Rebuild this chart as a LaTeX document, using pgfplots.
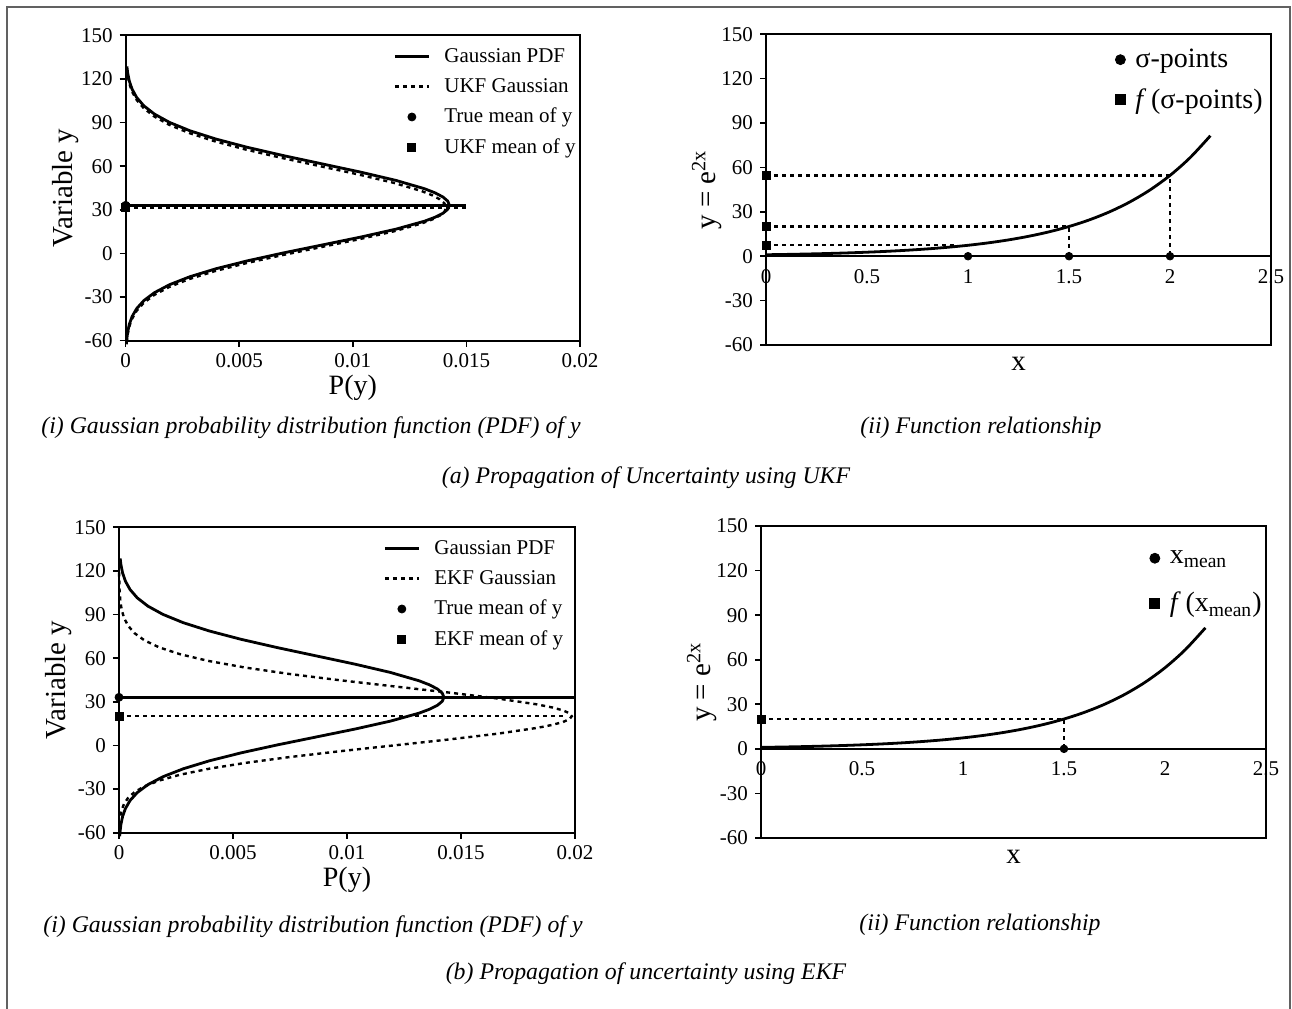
\documentclass[border=0pt]{standalone}
\usepackage{fontspec}
\setmainfont{Liberation Serif}
\usepackage{pgfplots}
\pgfplotsset{compat=1.18}
\pgfplotsset{
  base/.style={scale only axis, axis line style={line width=1pt},
    tick style={black, line width=0.8pt}, major tick length=3pt,
    tick align=outside, tick pos=left, scaled ticks=false,
    tick label style={font=\fontsize{10.5}{12}\selectfont},
    ymin=-60, ymax=150, ytick={-60,-30,0,30,60,90,120,150},
    yticklabels={-60,-30,0,30,60,90,120,150},
    clip=false, legend cell align=left,
    label style={font=\fontsize{14.5}{16}\selectfont}},
  leftp/.style={xmin=0, xmax=0.02, xtick={0,0.005,0.01,0.015,0.02},
    xticklabels={0,0.005,0.01,0.015,0.02}, xlabel={P(y)}, ylabel={Variable y},
    xlabel style={at={(rel axis cs:0.5,0)}, anchor=base, yshift=-27pt,
      font=\fontsize{14}{15}\selectfont},
    ylabel style={at={(rel axis cs:-0.132,0.5)}, anchor=center},
    legend style={draw=none, fill=none, font=\fontsize{10.5}{12}\selectfont,
      anchor=north east, row sep=2.5pt,
      /tikz/every odd column/.append style={column sep=5pt}}},
  rightp/.style={xmin=0, xmax=2.5, xtick={0,0.5,1,1.5,2,2.5},
    xticklabels={0,0.5,1,1.5,2,2.5}, xtick style={draw=none},
    xlabel={x}, ylabel={y = e\textsuperscript{2x}},
    xlabel style={at={(rel axis cs:0.5,0)}, anchor=base, yshift=-12.7pt},
    ylabel style={at={(rel axis cs:-0.117,0.5)}, anchor=center},
    legend style={draw=none, fill=none, font=\fontsize{14}{16}\selectfont,
      anchor=north east, row sep=5pt,
      /tikz/every odd column/.append style={column sep=3pt}},
    legend image post style={mark size=2.5pt}},
  solidc/.style={black, line width=1.4pt, line join=round},
  dotc/.style={black, line width=1.2pt, dash pattern=on 2pt off 2pt},
}
\begin{document}
\begin{tikzpicture}
\useasboundingbox (0,0) rectangle (646pt,504pt);
\fill[white] (0,0) rectangle (646pt,504pt);
\draw[line width=1pt, color=black!62] (3.5pt,-10pt) -- (3.5pt,500.5pt) -- (645pt,500.5pt) -- (645pt,-10pt);

% ---------- (a)(i) ----------
\begin{axis}[base, leftp, at={(62.85pt,333.65pt)}, anchor=south west,
  width=227.15pt, height=152.7pt,
  legend style={at={(rel axis cs:1,0.985)}, xshift=3pt}]
\addplot[solidc] coordinates {(0.0000312,-62.45) (0.000044,-59.72) (0.000085,-54.26) (0.000158,-48.8) (0.000283,-43.34) (0.000485,-37.88) (0.000800,-32.42) (0.001267,-26.96) (0.001929,-21.5) (0.002820,-16.04) (0.003962,-10.58) (0.005348,-5.12) (0.006936,0.34) (0.008643,5.8) (0.010348,11.26) (0.011903,16.72) (0.013155,22.18) (0.013623,24.91) (0.013968,27.64) (0.014179,30.37) (0.01425,33.1) (0.014179,35.95) (0.013968,38.8) (0.013623,41.65) (0.013155,44.5) (0.011903,50.2) (0.010348,55.9) (0.008643,61.6) (0.006936,67.3) (0.005348,73.0) (0.003962,78.7) (0.002820,84.4) (0.001929,90.1) (0.001267,95.8) (0.000800,101.5) (0.000485,107.2) (0.000283,112.9) (0.000158,118.6) (0.000085,124.3) (0.0000521,128.6)};
\addlegendentry{Gaussian PDF}
\addplot[dotc] coordinates {(0.0000436,-61.32) (0.000084,-55.86) (0.000156,-50.4) (0.000280,-44.94) (0.000480,-39.48) (0.000792,-34.02) (0.001254,-28.56) (0.001910,-23.1) (0.002792,-17.64) (0.003922,-12.18) (0.005295,-6.72) (0.006867,-1.26) (0.008557,4.2) (0.010245,9.66) (0.011784,15.12) (0.013023,20.58) (0.013487,23.31) (0.013828,26.04) (0.014037,28.77) (0.014108,31.5) (0.014037,34.35) (0.013828,37.2) (0.013487,40.05) (0.013023,42.9) (0.011784,48.6) (0.010245,54.3) (0.008557,60.0) (0.006867,65.7) (0.005295,71.4) (0.003922,77.1) (0.002792,82.8) (0.001910,88.5) (0.001254,94.2) (0.000792,99.9) (0.000480,105.6) (0.000280,111.3) (0.000156,117.0) (0.000084,122.7) (0.0000516,127.0)};
\addlegendentry{UKF Gaussian}
\addplot[only marks, mark=*, mark size=2pt, black] coordinates {(0,33.1)};
\addlegendentry{True mean of y}
\addplot[only marks, mark=square*, mark size=2pt, black] coordinates {(0,31.5)};
\addlegendentry{UKF mean of y}
\addplot[solidc, forget plot] coordinates {(0,33.1) (0.015,33.1)};
\addplot[dotc, forget plot] coordinates {(0,31.5) (0.015,31.5)};
\end{axis}

% ---------- (a)(ii) ----------
\begin{axis}[base, rightp, at={(383pt,331.5pt)}, anchor=south west,
  width=252.5pt, height=155.35pt, xticklabel style={yshift=44.4pt},
  legend style={at={(rel axis cs:1,0.98)}, xshift=1pt}]
\addplot[black, line width=1pt, forget plot] coordinates {(0,0) (2.5,0)};
\addplot[solidc, smooth, forget plot] coordinates {(0,1) (0.1,1.2214) (0.2,1.4918) (0.3,1.8221) (0.4,2.2255) (0.5,2.7183) (0.6,3.3201) (0.7,4.0552) (0.8,4.9530) (0.9,6.0496) (1.0,7.3891) (1.1,9.0250) (1.2,11.0232) (1.3,13.4637) (1.4,16.4446) (1.5,20.0855) (1.6,24.5325) (1.7,29.9641) (1.8,36.5982) (1.9,44.7012) (2.0,54.5982) (2.1,66.6863) (2.2,81.4509)};
\addplot[dotc, forget plot] coordinates {(0,54.598) (2,54.598) (2,0)};
\addplot[dotc, forget plot] coordinates {(0,20.086) (1.5,20.086) (1.5,0)};
\addplot[dotc, forget plot] coordinates {(0,7.389) (0.95,7.389)};
\addplot[only marks, mark=*, mark size=1.9pt, black] coordinates {(1,0) (1.5,0) (2,0)};
\addlegendentry{σ-points}
\addplot[only marks, mark=square*, mark size=2pt, black] coordinates {(0,7.389) (0,20.086) (0,54.598)};
\addlegendentry{\textit{f}\,(σ-points)}
\end{axis}

% ---------- (b)(i) ----------
\begin{axis}[base, leftp, at={(59.5pt,87.65pt)}, anchor=south west,
  width=228pt, height=152.7pt,
  legend style={at={(rel axis cs:0.997,0.985)}}]
\addplot[solidc] coordinates {(0.0000312,-62.45) (0.000044,-59.72) (0.000085,-54.26) (0.000158,-48.8) (0.000283,-43.34) (0.000485,-37.88) (0.000800,-32.42) (0.001267,-26.96) (0.001929,-21.5) (0.002820,-16.04) (0.003962,-10.58) (0.005348,-5.12) (0.006936,0.34) (0.008643,5.8) (0.010348,11.26) (0.011903,16.72) (0.013155,22.18) (0.013623,24.91) (0.013968,27.64) (0.014179,30.37) (0.01425,33.1) (0.014179,35.95) (0.013968,38.8) (0.013623,41.65) (0.013155,44.5) (0.011903,50.2) (0.010348,55.9) (0.008643,61.6) (0.006936,67.3) (0.005348,73.0) (0.003962,78.7) (0.002820,84.4) (0.001929,90.1) (0.001267,95.8) (0.000800,101.5) (0.000485,107.2) (0.000283,112.9) (0.000158,118.6) (0.000085,124.3) (0.0000521,128.6)};
\addlegendentry{Gaussian PDF}
\addplot[dotc] coordinates {(0.000061,-48.22) (0.000119,-44.2) (0.000221,-40.18) (0.000394,-36.16) (0.000676,-32.14) (0.001115,-28.13) (0.001766,-24.11) (0.002688,-20.09) (0.003930,-16.07) (0.005521,-12.05) (0.007453,-8.04) (0.009666,-4.02) (0.012045,0.0) (0.014420,4.02) (0.016587,8.04) (0.018331,12.05) (0.018984,14.06) (0.019465,16.07) (0.019759,18.08) (0.019858,20.09) (0.019759,22.12) (0.019465,24.15) (0.018984,26.19) (0.018331,28.23) (0.016587,32.32) (0.014420,36.46) (0.012045,40.64) (0.009666,44.88) (0.007453,49.20) (0.005521,53.59) (0.003930,58.09) (0.002688,62.69) (0.001766,67.41) (0.001115,72.27) (0.000676,77.26) (0.000394,82.42) (0.000221,87.74) (0.000119,93.24) (0.000061,98.94) (0.000021,107.86) (0.000003,120.0)};
\addlegendentry{EKF Gaussian}
\addplot[only marks, mark=*, mark size=2pt, black] coordinates {(0,33.1)};
\addlegendentry{True mean of y}
\addplot[only marks, mark=square*, mark size=2pt, black] coordinates {(0,20.09)};
\addlegendentry{EKF mean of y}
\addplot[solidc, forget plot] coordinates {(0,33.1) (0.02,33.1)};
\addplot[dotc, forget plot] coordinates {(0,20.09) (0.0196,20.09)};
\end{axis}

% ---------- (b)(ii) ----------
\begin{axis}[base, rightp, at={(380.5pt,85pt)}, anchor=south west,
  width=252.5pt, height=156pt, xticklabel style={yshift=44.57pt},
  legend style={at={(rel axis cs:1,0.949)}, xshift=3pt, row sep=9pt}]
\addplot[black, line width=1pt, forget plot] coordinates {(0,0) (2.5,0)};
\addplot[solidc, smooth, forget plot] coordinates {(0,1) (0.1,1.2214) (0.2,1.4918) (0.3,1.8221) (0.4,2.2255) (0.5,2.7183) (0.6,3.3201) (0.7,4.0552) (0.8,4.9530) (0.9,6.0496) (1.0,7.3891) (1.1,9.0250) (1.2,11.0232) (1.3,13.4637) (1.4,16.4446) (1.5,20.0855) (1.6,24.5325) (1.7,29.9641) (1.8,36.5982) (1.9,44.7012) (2.0,54.5982) (2.1,66.6863) (2.2,81.4509)};
\addplot[dotc, forget plot] coordinates {(0,20.086) (1.5,20.086) (1.5,0)};
\addplot[only marks, mark=*, mark size=1.9pt, black] coordinates {(1.5,0)};
\addlegendentry{x\textsubscript{mean}}
\addplot[only marks, mark=square*, mark size=2pt, black] coordinates {(0,20.086)};
\addlegendentry{\textit{f}\,(x\textsubscript{mean})}
\end{axis}

% ---------- captions ----------
\begin{scope}[every node/.style={font=\fontsize{11.9}{13}\selectfont\itshape, inner sep=0pt}]
\node at (155.5pt,290pt) {(i) Gaussian probability distribution function (PDF) of y};
\node at (490.5pt,290pt) {(ii) Function relationship};
\node at (323pt,265pt) {(a) Propagation of Uncertainty using UKF};
\node at (156.5pt,40.5pt) {(i) Gaussian probability distribution function (PDF) of y};
\node at (490pt,41.5pt) {(ii) Function relationship};
\node at (323pt,17pt) {(b) Propagation of uncertainty using EKF};
\end{scope}
\end{tikzpicture}
\end{document}
